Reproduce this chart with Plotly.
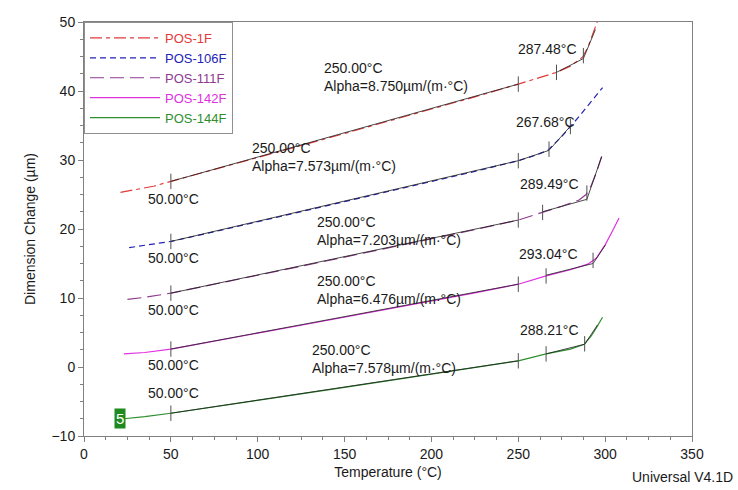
import numpy as np
import plotly.graph_objects as go

# ---------------- data ----------------
names = ["POS-1F", "POS-106F", "POS-111F", "POS-142F", "POS-144F"]
colors = ["#e23a3a", "#2323b4", "#8e3b8e", "#e030e0", "#2f8f2f"]
dashes = ["12px,4px,4px,4px", "6px,4px", "14px,6px", "solid", "solid"]

t_1f = [21, 30, 40, 50, 75, 100, 125, 150, 175, 200, 225, 250, 265, 272, 280, 287, 290, 293, 296]
v_1f = [25.3, 25.7, 26.2, 26.9, 28.6, 30.35, 32.1, 33.85, 35.6, 37.4, 39.15, 41.0, 42.1, 42.7, 43.6, 44.9, 46.3, 48.2, 50.4]

t_106f = [26, 35, 50, 75, 100, 125, 150, 175, 200, 225, 250, 260, 267, 275, 285, 298.5]
v_106f = [17.3, 17.6, 18.2, 19.6, 21.05, 22.5, 23.95, 25.4, 26.9, 28.35, 29.9, 30.7, 31.4, 33.4, 36.3, 40.5]

t_111f = [25, 35, 50, 75, 100, 125, 150, 175, 200, 225, 250, 264, 275, 285, 289, 292, 295, 298]
v_111f = [9.8, 10.1, 10.7, 11.95, 13.3, 14.6, 15.9, 17.25, 18.6, 19.9, 21.3, 22.4, 23.3, 24.2, 25.0, 26.3, 28.2, 30.5]

t_142f = [23, 35, 50, 75, 100, 125, 150, 175, 200, 225, 250, 266, 280, 290, 295, 300, 304, 308]
v_142f = [1.9, 2.1, 2.6, 3.7, 4.9, 6.05, 7.2, 8.4, 9.6, 10.75, 12.0, 13.2, 14.1, 14.9, 15.8, 17.7, 19.6, 21.6]

t_144f = [23, 35, 50, 75, 100, 125, 150, 175, 200, 225, 250, 266, 280, 288, 292, 295, 298.5]
v_144f = [-7.5, -7.2, -6.7, -5.8, -4.85, -3.9, -2.95, -2.0, -1.05, -0.1, 0.9, 1.9, 2.6, 3.3, 4.5, 5.7, 7.2]

temps = [t_1f, t_106f, t_111f, t_142f, t_144f]
vals = [v_1f, v_106f, v_111f, v_142f, v_144f]

# analysis points (vertical tick marks on curves)
mark_t = [[50, 250, 272, 287.48],
          [50, 250, 267.68, 280],
          [50, 250, 264, 289.49],
          [50, 250, 266, 293.04],
          [50, 250, 266, 288.21]]

# onset tangent lines (T, value)
tan_t = [[272, 287.48, 294.4], [250, 267.68, 280], [264, 289.49, 298], [266, 293.04, 300.2], [266, 288.21, 295.6]]
tan_v = [[42.7, 44.7, 48.9], [29.9, 31.4, 34.9], [22.5, 24.3, 30.5], [13.3, 15.0, 17.7], [1.9, 3.3, 6.1]]

onset_labels = ["287.48°C", "267.68°C", "289.49°C", "293.04°C", "288.21°C"]
alpha_labels = ["8.750", "7.573", "7.203", "6.476", "7.578"]

# ---------------- figure ----------------
fig = go.Figure()
for i in range(5):
    fig.add_trace(go.Scatter(
        x=temps[i], y=vals[i], mode="lines",
        name='<span style="color:%s">%s</span>' % (colors[i], names[i]),
        line=dict(color=colors[i], width=1.2, dash=dashes[i]),
        hoverinfo="skip"))

for i in range(5):
    t = np.array(temps[i], dtype=float)
    v = np.array(vals[i], dtype=float)
    sec_t = [50, 250]
    sec_v = list(np.interp(sec_t, t, v))
    fig.add_trace(go.Scatter(x=sec_t, y=sec_v, mode="lines", showlegend=False,
                             line=dict(color="rgba(30,30,30,0.8)", width=1), hoverinfo="skip"))
    fig.add_trace(go.Scatter(x=tan_t[i], y=tan_v[i], mode="lines", showlegend=False,
                             line=dict(color="rgba(30,30,30,0.8)", width=1), hoverinfo="skip"))
    mt = mark_t[i]
    mv = list(np.interp(mt, t, v))
    fig.add_trace(go.Scatter(x=mt, y=mv, mode="markers", showlegend=False,
                             marker=dict(symbol="line-ns-open", size=11, color="#505050",
                                         line=dict(color="#505050", width=1)),
                             hoverinfo="skip"))

# label positions (data coordinates)
onset_pos = [(266.7, 46.1), (265.6, 35.5), (267.9, 26.5), (267.3, 16.4), (267.9, 5.4)]
alpha_pos = [(137.0, 42.1), (95.4, 30.4), (132.9, 19.7), (132.9, 11.1), (130.0, 1.1)]
fifty_pos = [(51.6, 24.3), (51.6, 15.8), (51.6, 8.3), (51.6, 0.3), (51.6, -3.7)]

FONT = "Liberation Sans, Arial, sans-serif"
ann = []
for i in range(5):
    ann.append(dict(x=onset_pos[i][0], y=onset_pos[i][1], text=onset_labels[i],
                    showarrow=False, xanchor="center", yanchor="middle"))
    ann.append(dict(x=alpha_pos[i][0], y=alpha_pos[i][1],
                    text="250.00°C<br>Alpha=%sµm/(m·°C)" % alpha_labels[i],
                    showarrow=False, xanchor="left", yanchor="middle", align="left"))
    ann.append(dict(x=fifty_pos[i][0], y=fifty_pos[i][1], text="50.00°C",
                    showarrow=False, xanchor="center", yanchor="middle"))
for a in ann:
    a["font"] = dict(family=FONT, size=14, color="#1a1a1a")
    a["xref"] = "x"
    a["yref"] = "y"

ann.append(dict(x=20.5, y=-7.5, xref="x", yref="y", text="5", showarrow=False,
                bgcolor="#1f8a1f", font=dict(family=FONT, size=15, color="white"),
                borderpad=1))
ann.append(dict(x=1.0, y=0, xref="paper", yref="paper", xanchor="right", yanchor="top",
                yshift=-31, xshift=43, text="Universal V4.1D", showarrow=False,
                font=dict(family=FONT, size=14, color="#1a1a1a")))

fig.update_layout(
    width=738, height=490,
    margin=dict(l=84, r=46, t=22, b=49),
    paper_bgcolor="white", plot_bgcolor="white",
    font=dict(family=FONT, size=14, color="#1a1a1a"),
    annotations=ann,
    showlegend=True,
    legend=dict(x=0, y=1, xanchor="left", yanchor="top",
                bgcolor="white", bordercolor="#909090", borderwidth=1,
                font=dict(family=FONT, size=13), itemwidth=70,
                tracegroupgap=0),
)
axis_common = dict(showline=True, linecolor="#808080", linewidth=1, mirror=True,
                   ticks="outside", ticklen=5, tickcolor="#808080", showgrid=False,
                   zeroline=False, tickfont=dict(family=FONT, size=14, color="#1a1a1a"))
fig.update_xaxes(range=[0, 350], dtick=50, tick0=0,
                 title=dict(text="Temperature (°C)", standoff=6,
                            font=dict(family=FONT, size=14)),
                 minor=dict(dtick=12.5, ticks="outside", ticklen=3, tickcolor="#808080"),
                 **axis_common)
fig.update_yaxes(range=[-10, 50], dtick=10, tick0=0,
                 title=dict(text="Dimension Change (µm)", standoff=12,
                            font=dict(family=FONT, size=14)),
                 minor=dict(dtick=2.5, ticks="outside", ticklen=3, tickcolor="#808080"),
                 **axis_common)

fig.write_html("out.html")
